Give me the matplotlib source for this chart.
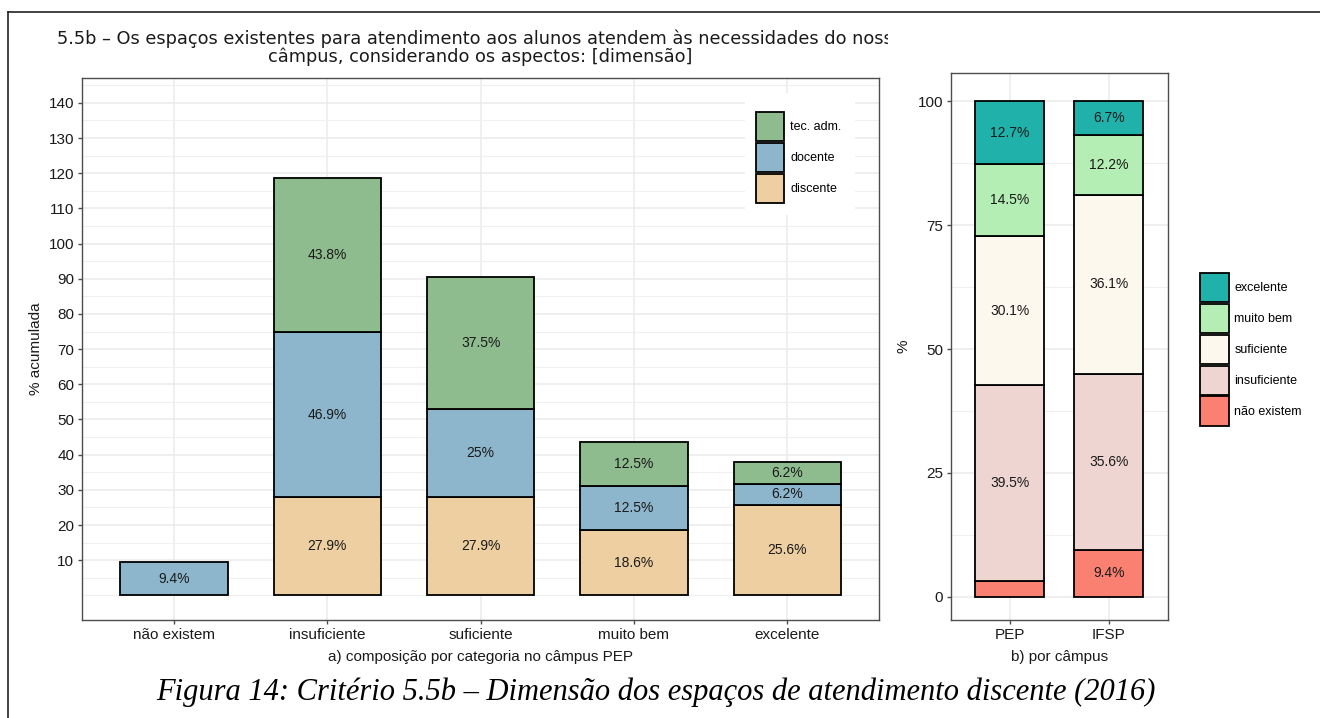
import matplotlib.pyplot as plt
import numpy as np
from matplotlib.patches import Patch, Rectangle
from matplotlib.lines import Line2D
from matplotlib.transforms import Bbox, TransformedBbox

plt.rcParams['font.family'] = ['Liberation Sans', 'DejaVu Sans']

# a) composicao por categoria no campus PEP
categorias = ['não existem', 'insuficiente', 'suficiente', 'muito bem', 'excelente']
discente = [0, 27.9, 27.9, 18.6, 25.6]
docente = [9.4, 46.9, 25.0, 12.5, 6.2]
tec_adm = [0, 43.8, 37.5, 12.5, 6.2]

# b) por campus
campi = ['PEP', 'IFSP']
nao_existem = [3.2, 9.4]
insuficiente = [39.5, 35.6]
suficiente = [30.1, 36.1]
muito_bem = [14.5, 12.2]
excelente = [12.7, 6.7]

cores_a = {'discente': '#EECFA1', 'docente': '#8DB6CD', 'tec. adm.': '#8FBC8F'}
cores_b = {'não existem': '#FA8072', 'insuficiente': '#EED5D2', 'suficiente': '#FDF8EE',
           'muito bem': '#B4EEB4', 'excelente': '#20B2AA'}

grid_col = '#EBEBEB'
spine_col = '#4D4D4D'
txt_col = '#1A1A1A'


def rotulo(v):
    return f'{v:g}%' if v >= 5 else ''


def empilhar(ax, series, cores, width=0.7):
    x = np.arange(1, len(series[0][1]) + 1)
    base = np.zeros(len(x))
    for nome, vals in series:
        vals = np.array(vals, dtype=float)
        for i in range(len(x)):
            if vals[i] <= 0:
                continue
            ax.bar(x[i], vals[i], bottom=base[i], width=width, color=cores[nome],
                   edgecolor='black', linewidth=1.3, zorder=2)
            lab = rotulo(vals[i])
            if lab:
                ax.text(x[i], base[i] + vals[i] / 2, lab, ha='center', va='center',
                        fontsize=10, color=txt_col, zorder=3)
        base += vals


def estilo(ax):
    for s in ax.spines.values():
        s.set_color(spine_col)
        s.set_linewidth(1.0)
    ax.tick_params(which='major', length=3, width=1, color=spine_col,
                   labelsize=11, labelcolor=txt_col, pad=2.5)
    ax.tick_params(which='minor', length=0)
    ax.set_axisbelow(True)
    ax.grid(which='major', color=grid_col, linewidth=1.1, zorder=0)
    ax.grid(which='minor', axis='y', color='#F0F0F0', linewidth=0.8, zorder=0)


leg_kw = dict(frameon=False, fontsize=9, handlelength=2.3, handleheight=3.2,
              labelspacing=0.15, handletextpad=0.45, borderpad=0, borderaxespad=0)

fig = plt.figure(figsize=(13.2, 7.18), dpi=100)

# painel a
ax1 = fig.add_axes([0.0621, 0.1365, 0.6040, 0.7545])
empilhar(ax1, [('discente', discente), ('docente', docente), ('tec. adm.', tec_adm)], cores_a)
ax1.set_xlim(0.4, 5.6)
ax1.set_ylim(-7, 147)
ax1.set_xticks(range(1, 6))
ax1.set_xticklabels(categorias)
ax1.set_yticks(range(10, 141, 10))
ax1.set_yticks(np.arange(0, 146, 5), minor=True)
estilo(ax1)
ax1.set_xlabel('a) composição por categoria no câmpus PEP', fontsize=11, color=txt_col)
ax1.xaxis.set_label_coords(0.5, -0.055)
ax1.set_ylabel('% acumulada', fontsize=11, color=txt_col)
ax1.yaxis.set_label_coords(-0.049, 0.5)

ax1.add_patch(Rectangle((0.8316, 0.7477), 0.138, 0.2253, transform=ax1.transAxes,
                        facecolor='white', edgecolor='none', zorder=1))
h1 = [Patch(facecolor=cores_a[k], edgecolor='black', linewidth=1.3)
      for k in ['tec. adm.', 'docente', 'discente']]
ax1.legend(h1, ['tec. adm.', 'docente', 'discente'], loc='upper left',
           bbox_to_anchor=(0.845, 0.9384), **leg_kw)

# painel b
ax2 = fig.add_axes([0.7202, 0.1365, 0.1646, 0.7622])
empilhar(ax2, [('não existem', nao_existem), ('insuficiente', insuficiente),
               ('suficiente', suficiente), ('muito bem', muito_bem),
               ('excelente', excelente)], cores_b)
ax2.set_xlim(0.4, 2.6)
ax2.set_ylim(-4.7, 105.8)
ax2.set_xticks([1, 2])
ax2.set_xticklabels(campi)
ax2.set_yticks([0, 25, 50, 75, 100])
ax2.set_yticks([12.5, 37.5, 62.5, 87.5], minor=True)
estilo(ax2)
ax2.set_xlabel('b) por câmpus', fontsize=11, color=txt_col)
ax2.xaxis.set_label_coords(0.5, -0.055)
ax2.set_ylabel('%', fontsize=11, color=txt_col)
ax2.yaxis.set_label_coords(-0.187, 0.5)

ordem_b = ['excelente', 'muito bem', 'suficiente', 'insuficiente', 'não existem']
h2 = [Patch(facecolor=cores_b[k], edgecolor='black', linewidth=1.3) for k in ordem_b]
fig.legend(h2, ordem_b, loc='upper left', bbox_to_anchor=(1200 / 1320, 1 - 272.7 / 718),
           **leg_kw)

# titulo (cortado a direita, como no original)
t = fig.text(480 / 1320, 1 - 29 / 718,
             '5.5b – Os espaços existentes para atendimento aos alunos atendem às necessidades do nosso\n'
             'câmpus, considerando os aspectos: [dimensão]',
             ha='center', va='top', fontsize=12.8, family='DejaVu Sans', color=txt_col,
             linespacing=1.0)
t.set_clip_on(True)
t.set_clip_box(TransformedBbox(Bbox([[0, 0], [888 / 1320, 1]]), fig.transFigure))

# legenda da figura
fig.text(656 / 1320, 1 - 700 / 718,
         'Figura 14: Critério 5.5b – Dimensão dos espaços de atendimento discente (2016)',
         ha='center', va='baseline', fontsize=22, family='Liberation Serif',
         style='italic', color='black')

# moldura da pagina
fig.add_artist(Line2D([8 / 1320, 8 / 1320], [0, 1 - 12 / 718], transform=fig.transFigure,
                      color='#222222', linewidth=1.2))
fig.add_artist(Line2D([8 / 1320, 1], [1 - 12 / 718, 1 - 12 / 718], transform=fig.transFigure,
                      color='#222222', linewidth=1.2))

fig.savefig('out.png', dpi=100)
